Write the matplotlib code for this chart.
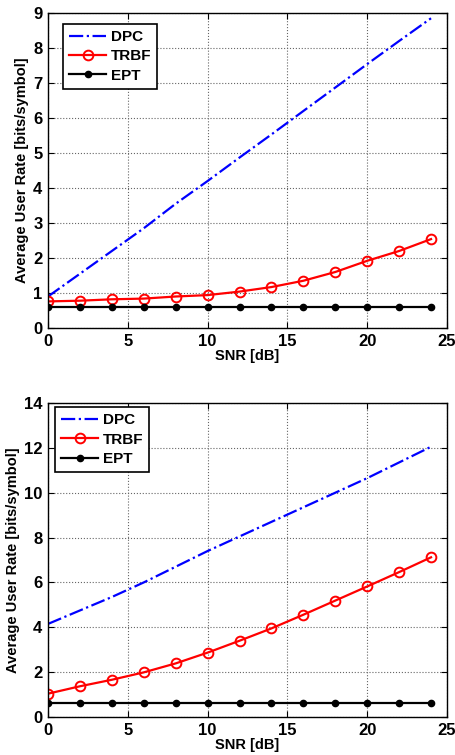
import numpy as np
import matplotlib.pyplot as plt

snr = np.arange(0, 25, 2)

# top panel
dpc_a = [0.90, 1.55, 2.20, 2.85, 3.55, 4.20, 4.87, 5.53, 6.20, 6.87, 7.54, 8.20, 8.85]
trbf_a = [0.76, 0.78, 0.82, 0.84, 0.90, 0.94, 1.04, 1.17, 1.35, 1.60, 1.92, 2.20, 2.54]
ept_a = [0.60] * 13

# bottom panel
dpc_b = [4.15, 4.75, 5.35, 6.00, 6.70, 7.40, 8.05, 8.70, 9.35, 10.00, 10.65, 11.35, 12.05]
trbf_b = [1.04, 1.37, 1.66, 1.99, 2.39, 2.87, 3.40, 3.95, 4.56, 5.19, 5.82, 6.46, 7.12]
ept_b = [0.64] * 13

plt.rcParams['font.family'] = ['Liberation Sans', 'DejaVu Sans']
plt.rcParams['font.weight'] = 'bold'
plt.rcParams['font.size'] = 10.5

fig = plt.figure(figsize=(4.56, 7.55), dpi=100)
W, H = 456., 755.
ax1 = fig.add_axes([48/W, 1-328/H, 399/W, 315/H])
ax2 = fig.add_axes([48/W, 1-717/H, 399/W, 314/H])

panels = [(ax1, dpc_a, trbf_a, ept_a, 9, 1, (0.038, 0.965)),
          (ax2, dpc_b, trbf_b, ept_b, 14, 2, (0.018, 0.987))]
for ax, dpc, trbf, ept, ymax, ystep, anchor in panels:
    ax.plot(snr, dpc, 'b-.', lw=1.6, label='DPC')
    ax.plot(snr, trbf, 'r-o', lw=1.6, ms=7, mfc='none', mew=1.4, label='TRBF')
    ax.plot(snr, ept, 'k-o', lw=1.6, ms=4.5, label='EPT')
    ax.set_xlim(0, 25)
    ax.set_ylim(0, ymax)
    ax.set_xticks(np.arange(0, 26, 5))
    ax.set_yticks(np.arange(0, ymax + 1, ystep))
    ax.grid(True, ls=':', color='#666666', lw=0.8)
    ax.tick_params(direction='in', length=4, top=True, right=True, labelsize=12, pad=4)
    for s in ax.spines.values():
        s.set_linewidth(1.0)
    ax.set_xlabel('SNR [dB]', fontweight='bold', labelpad=0)
    ax.set_ylabel('Average User Rate [bits/symbol]', fontweight='bold', labelpad=3)
    leg = ax.legend(loc='upper left', fancybox=False, edgecolor='k', framealpha=1,
                    handlelength=2.4, handletextpad=0.3, borderpad=0.4,
                    labelspacing=0.35, borderaxespad=0,
                    bbox_to_anchor=anchor, prop={'weight': 'bold', 'size': 11})
    leg.get_frame().set_linewidth(1.2)

fig.savefig('out.png', dpi=100)
